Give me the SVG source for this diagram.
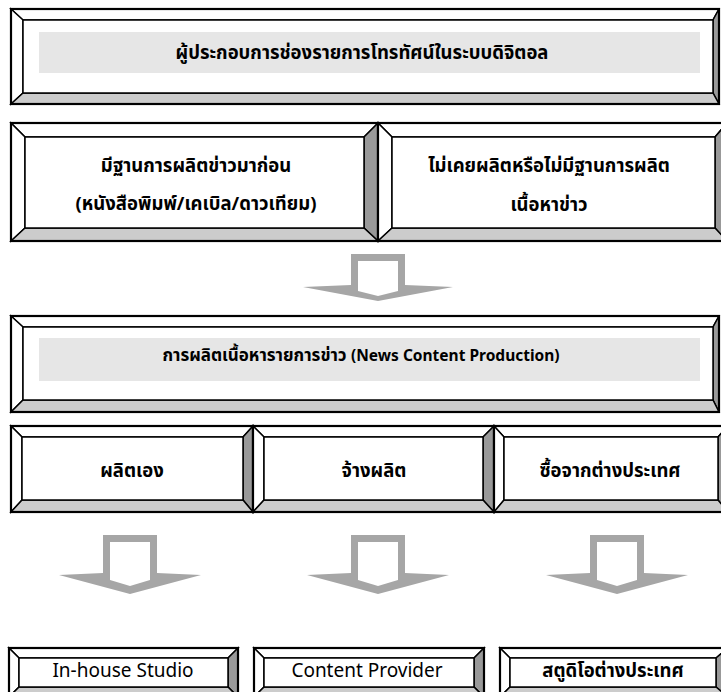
<svg xmlns="http://www.w3.org/2000/svg" width="721" height="692" viewBox="0 0 721 692">
<style>
.bv{stroke:#000;stroke-width:1.5;stroke-linejoin:miter}
.w{fill:#fff}
.d{fill:#999}
.g{fill:#ccc}
.band{fill:#e6e6e6}
.out{fill:none;stroke:#000;stroke-width:2.2}
.tx{font-family:"Noto Sans Thai","Noto Sans","DejaVu Sans",sans-serif;font-size:18.5px;font-weight:bold;fill:#000;text-anchor:middle}
.t3{font-size:17px}
.enb{font-family:"Noto Sans","Open Sans","DejaVu Sans",sans-serif;font-size:15.5px;font-weight:bold}
.en{font-family:"Noto Sans","Open Sans","DejaVu Sans",sans-serif;font-size:19px;fill:#000;text-anchor:middle}
.ar{fill:#a6a6a6}
</style>
<rect width="721" height="692" fill="#fff"/>

<g id="n1">
<polygon class="bv w" points="11,9 719,9 713,20 23,20"/>
<polygon class="bv w" points="11,9 23,20 23,93 11,104"/>
<polygon class="bv d" points="719,9 719,104 713,93 713,20"/>
<polygon class="bv g" points="11,104 23,93 713,93 719,104"/>
<rect class="bv w" x="23" y="20" width="690" height="73"/>
<rect class="out" x="11" y="9" width="708" height="95"/>
<rect class="band" x="39" y="32" width="661" height="41"/>
<text class="tx" x="362" y="59">ผู้ประกอบการช่องรายการโทรทัศน์ในระบบดิจิตอล</text>
</g>

<g id="n2">
<polygon class="bv w" points="11,123 378,123 364,137 25,137"/>
<polygon class="bv w" points="11,123 25,137 25,228 11,241"/>
<polygon class="bv d" points="378,123 378,241 364,228 364,137"/>
<polygon class="bv g" points="11,241 25,228 364,228 378,241"/>
<rect class="bv w" x="25" y="137" width="339" height="91"/>
<rect class="out" x="11" y="123" width="367" height="118"/>
<text class="tx" x="196" y="172">มีฐานการผลิตข่าวมาก่อน</text>
<text class="tx" x="196" y="210">(หนังสือพิมพ์/เคเบิล/ดาวเทียม)</text>
</g>

<g id="n3">
<polygon class="bv w" points="378,123 727,123 715,137 392,137"/>
<polygon class="bv w" points="378,123 392,137 392,228 378,241"/>
<polygon class="bv d" points="727,123 727,241 715,228 715,137"/>
<polygon class="bv g" points="378,241 392,228 715,228 727,241"/>
<rect class="bv w" x="392" y="137" width="323" height="91"/>
<rect class="out" x="378" y="123" width="349" height="118"/>
<text class="tx" x="549" y="172">ไม่เคยผลิตหรือไม่มีฐานการผลิต</text>
<text class="tx" x="549" y="211">เนื้อหาข่าว</text>
</g>

<g id="n4">
<polygon class="bv w" points="11,316 719,316 713,327 23,327"/>
<polygon class="bv w" points="11,316 23,327 23,400 11,412"/>
<polygon class="bv d" points="719,316 719,412 713,400 713,327"/>
<polygon class="bv g" points="11,412 23,400 713,400 719,412"/>
<rect class="bv w" x="23" y="327" width="690" height="73"/>
<rect class="out" x="11" y="316" width="708" height="96"/>
<rect class="band" x="39" y="338" width="661" height="43"/>
<text class="tx t3" x="361" y="361">การผลิตเนื้อหารายการข่าว <tspan class="enb">(News Content Production)</tspan></text>
</g>

<g id="n5">
<polygon class="bv w" points="11,426 253,426 243,437 22,437"/>
<polygon class="bv w" points="11,426 22,437 22,500 11,512"/>
<polygon class="bv d" points="253,426 253,512 243,500 243,437"/>
<polygon class="bv g" points="11,512 22,500 243,500 253,512"/>
<rect class="bv w" x="22" y="437" width="221" height="63"/>
<rect class="out" x="11" y="426" width="242" height="86"/>
<text class="tx" x="132" y="477">ผลิตเอง</text>
</g>

<g id="n6">
<polygon class="bv w" points="253,426 494,426 483,437 264,437"/>
<polygon class="bv w" points="253,426 264,437 264,500 253,512"/>
<polygon class="bv d" points="494,426 494,512 483,500 483,437"/>
<polygon class="bv g" points="253,512 264,500 483,500 494,512"/>
<rect class="bv w" x="264" y="437" width="219" height="63"/>
<rect class="out" x="253" y="426" width="241" height="86"/>
<text class="tx" x="374" y="477">จ้างผลิต</text>
</g>

<g id="n7">
<polygon class="bv w" points="494,426 728,426 718,437 504,437"/>
<polygon class="bv w" points="494,426 504,437 504,500 494,512"/>
<polygon class="bv d" points="728,426 728,512 718,500 718,437"/>
<polygon class="bv g" points="494,512 504,500 718,500 728,512"/>
<rect class="bv w" x="504" y="437" width="214" height="63"/>
<rect class="out" x="494" y="426" width="234" height="86"/>
<text class="tx" x="610" y="477">ซื้อจากต่างประเทศ</text>
</g>

<g id="n8">
<polygon class="bv w" points="9,648 238,648 228,658 19,658"/>
<polygon class="bv w" points="9,648 19,658 19,687 9,697"/>
<polygon class="bv d" points="238,648 238,697 228,687 228,658"/>
<polygon class="bv g" points="9,697 19,687 228,687 238,697"/>
<rect class="bv w" x="19" y="658" width="209" height="29"/>
<rect class="out" x="9" y="648" width="229" height="49"/>
<text class="en" x="123" y="677">In-house Studio</text>
</g>

<g id="n9">
<polygon class="bv w" points="254,648 484,648 474,658 264,658"/>
<polygon class="bv w" points="254,648 264,658 264,687 254,697"/>
<polygon class="bv d" points="484,648 484,697 474,687 474,658"/>
<polygon class="bv g" points="254,697 264,687 474,687 484,697"/>
<rect class="bv w" x="264" y="658" width="210" height="29"/>
<rect class="out" x="254" y="648" width="230" height="49"/>
<text class="en" x="367" y="677">Content Provider</text>
</g>

<g id="n10">
<polygon class="bv w" points="500,648 728,648 716,658 510,658"/>
<polygon class="bv w" points="500,648 510,658 510,687 500,697"/>
<polygon class="bv d" points="728,648 728,697 716,687 716,658"/>
<polygon class="bv g" points="500,697 510,687 716,687 728,697"/>
<rect class="bv w" x="510" y="658" width="206" height="29"/>
<rect class="out" x="500" y="648" width="228" height="49"/>
<text class="tx" x="613" y="677">สตูดิโอต่างประเทศ</text>
</g>

<g id="connectors">
<g transform="translate(378,0)">
<polygon class="ar" points="-27,254 27,254 27,285 75,287 0,301 -75,287 -27,285"/>
<polygon class="w" points="-20,261 20,261 20,291 0,296 -20,291"/>
</g>
<g transform="translate(130,0)">
<polygon class="ar" points="-27,535 27,535 27,573 71,575 0,594 -71,575 -27,573"/>
<polygon class="w" points="-20,542 20,542 20,580 0,586 -20,580"/>
</g>
<g transform="translate(378,0)">
<polygon class="ar" points="-27,535 27,535 27,573 71,575 0,594 -71,575 -27,573"/>
<polygon class="w" points="-20,542 20,542 20,580 0,586 -20,580"/>
</g>
<g transform="translate(617,0)">
<polygon class="ar" points="-27,535 27,535 27,573 71,575 0,594 -71,575 -27,573"/>
<polygon class="w" points="-20,542 20,542 20,580 0,586 -20,580"/>
</g>
</g>
</svg>
